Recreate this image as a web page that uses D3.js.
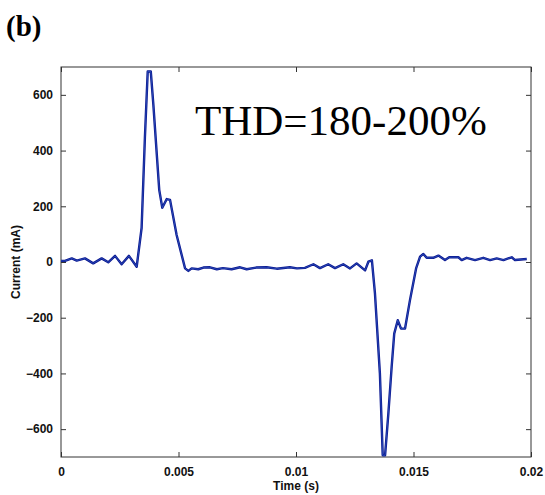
<!DOCTYPE html>
<html lang="en">
<head>
    <meta charset="UTF-8">
    <title>Current waveform (b)</title>
    <style>
        body {
            margin: 0;
            background: #fff;
        }
        .axis text {
            font-family: Arial, "Liberation Sans", sans-serif;
            font-weight: bold;
            font-size: 12px;
            fill: #111;
        }
        .axis path, .axis line {
            stroke: #333;
        }
    </style>
</head>
<body>
<div id="chart"></div>

<script src="https://d3js.org/d3.v7.min.js"></script>
<script>
    // values
    const timeS = [0, 0.00017, 0.00046, 0.00067, 0.00102, 0.00137, 0.00173, 0.00201, 0.0023, 0.00258,
        0.00289, 0.00322, 0.00343, 0.00357, 0.00369, 0.00382, 0.00393, 0.00418, 0.00431, 0.0045,
        0.00464, 0.00492, 0.00528, 0.00542, 0.00556, 0.00584, 0.00606, 0.00634, 0.00663, 0.00689,
        0.00726, 0.00762, 0.0079, 0.0083, 0.00875, 0.00918, 0.00974, 0.01004, 0.01038, 0.01074,
        0.01102, 0.01137, 0.01166, 0.01201, 0.0123, 0.01258, 0.01294, 0.01308, 0.01323, 0.01336,
        0.01357, 0.01369, 0.01379, 0.01393, 0.01407, 0.01418, 0.01433, 0.01447, 0.01464, 0.01485,
        0.01511, 0.01528, 0.01542, 0.01556, 0.01584, 0.01606, 0.01634, 0.01652, 0.01691, 0.01705,
        0.01726, 0.01762, 0.01797, 0.01826, 0.01854, 0.01883, 0.01918, 0.01932, 0.01982];
    const currentMA = [4, 4, 13, 5, 13, -5, 13, -1, 22, -8,
        22, -17, 122, 446, 684, 684, 565, 259, 195, 226,
        223, 97, -23, -32, -23, -26, -20, -19, -26, -22,
        -26, -19, -26, -20, -19, -24, -19, -23, -21, -8,
        -22, -8, -22, -8, -23, -5, -30, 1, 6, -113,
        -400, -694, -694, -544, -377, -257, -209, -239, -239, -137,
        -23, 19, 29, 15, 15, 23, 7, 17, 17, 7,
        15, 7, 15, 7, 13, 7, 17, 7, 11];
    const xTicks = [0, 0.005, 0.01, 0.015, 0.02];
    const yTicks = [-600, -400, -200, 0, 200, 400, 600];

    const width = 545;
    const height = 495;
    const margin = {top: 67, right: 14, bottom: 38, left: 61};

    const data = timeS.map((t, i) => ({t: t, v: currentMA[i]}));

    const svg = d3.select("#chart")
        .append("svg")
        .attr("width", width)
        .attr("height", height);

    const x = d3.scaleLinear()
        .domain([0, 0.02])
        .range([margin.left, width - margin.right]);

    const y = d3.scaleLinear()
        .domain([-700, 700])
        .range([height - margin.bottom, margin.top]);

    // frame
    svg.append("rect")
        .attr("x", x(0))
        .attr("y", y(700))
        .attr("width", x(0.02) - x(0))
        .attr("height", y(-700) - y(700))
        .attr("fill", "none")
        .attr("stroke", "#333");

    // MATLAB style ticks point inward, on all four sides
    const fmtX = d => d === 0 ? "0" : d3.format("")(d);

    svg.append("g")
        .attr("class", "axis")
        .attr("transform", "translate(0," + y(-700) + ")")
        .call(d3.axisBottom(x).tickValues(xTicks).tickFormat(fmtX).tickSizeInner(-5).tickSizeOuter(0).tickPadding(10))
        .call(g => g.select(".domain").remove());

    svg.append("g")
        .attr("class", "axis")
        .attr("transform", "translate(0," + y(700) + ")")
        .call(d3.axisTop(x).tickValues(xTicks).tickFormat("").tickSizeInner(-5).tickSizeOuter(0))
        .call(g => g.select(".domain").remove());

    svg.append("g")
        .attr("class", "axis")
        .attr("transform", "translate(" + x(0) + ",0)")
        .call(d3.axisLeft(y).tickValues(yTicks).tickSizeInner(-5).tickSizeOuter(0).tickPadding(8))
        .call(g => g.select(".domain").remove());

    svg.append("g")
        .attr("class", "axis")
        .attr("transform", "translate(" + x(0.02) + ",0)")
        .call(d3.axisRight(y).tickValues(yTicks).tickFormat("").tickSizeInner(-5).tickSizeOuter(0))
        .call(g => g.select(".domain").remove());

    // waveform
    const line = d3.line()
        .x(d => x(d.t))
        .y(d => y(d.v));

    svg.append("path")
        .datum(data)
        .attr("fill", "none")
        .attr("stroke", "#0a1690")
        .attr("stroke-width", 2.4)
        .attr("stroke-linejoin", "round")
        .attr("d", line);

    svg.append("path")
        .datum(data)
        .attr("fill", "none")
        .attr("stroke", "#5a9cf0")
        .attr("stroke-width", 0.6)
        .attr("stroke-opacity", 0.6)
        .attr("d", line);

    // labels
    svg.append("text")
        .attr("x", (x(0) + x(0.02)) / 2)
        .attr("y", 490)
        .attr("text-anchor", "middle")
        .style("font-family", "Arial, 'Liberation Sans', sans-serif")
        .style("font-weight", "bold")
        .style("font-size", "12px")
        .attr("fill", "#111")
        .text("Time (s)");

    svg.append("text")
        .attr("transform", "translate(20," + y(0) + ") rotate(-90)")
        .attr("text-anchor", "middle")
        .style("font-family", "Arial, 'Liberation Sans', sans-serif")
        .style("font-weight", "bold")
        .style("font-size", "12px")
        .attr("fill", "#111")
        .text("Current (mA)");

    svg.append("text")
        .attr("x", 6)
        .attr("y", 36)
        .style("font-family", "'Times New Roman', 'Liberation Serif', serif")
        .style("font-weight", "bold")
        .style("font-size", "29px")
        .attr("fill", "#000")
        .text("(b)");

    svg.append("text")
        .attr("x", 195)
        .attr("y", 135)
        .style("font-family", "'Times New Roman', 'Liberation Serif', serif")
        .style("font-size", "43px")
        .attr("fill", "#000")
        .text("THD=180-200%");
</script>
</body>
</html>
